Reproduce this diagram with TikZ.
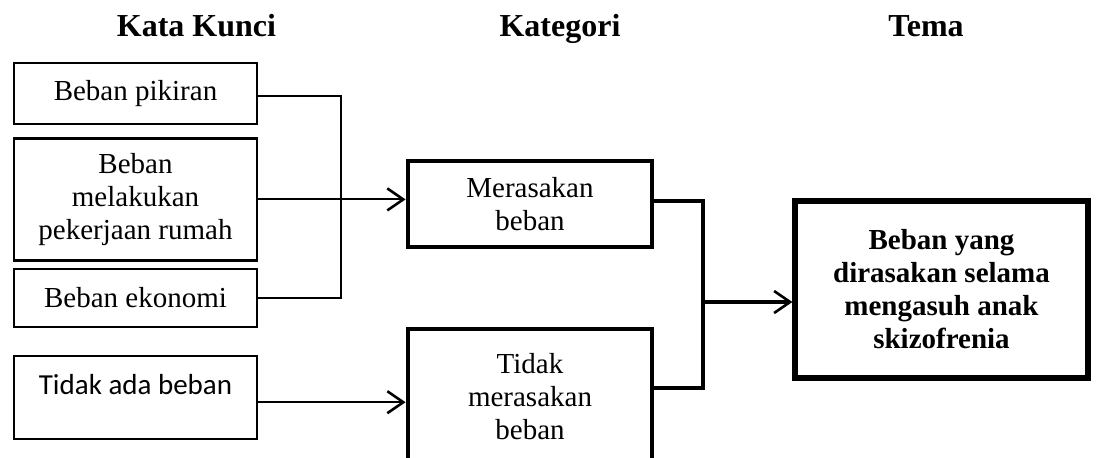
\documentclass[tikz,border=0pt]{standalone}
\usepackage{fontspec}
\setmainfont{Liberation Serif}
\newfontfamily\calibrifont{Carlito}
\usepackage{tikz}
\usetikzlibrary{arrows.meta,positioning}

\begin{document}
\begin{tikzpicture}[
        x=0.5pt, y=-0.5pt,
        every node/.style={font=\fontsize{14.5}{16.5}\selectfont},
        header/.style={anchor=base, font=\fontsize{16}{18}\selectfont\bfseries},
        keyword/.style={rectangle, draw, line width=1.2pt, minimum width=121.5pt, align=center, inner sep=0pt},
        category/.style={rectangle, draw, line width=2.4pt, minimum width=122pt, align=center, inner sep=0pt},
        theme/.style={rectangle, draw, line width=2.6pt, minimum width=146.5pt, minimum height=88.5pt, align=center, inner sep=0pt, font=\fontsize{14.5}{16.5}\selectfont\bfseries},
        thinline/.style={line width=1pt},
        thickline/.style={line width=2pt},
        arr/.style={-{Straight Barb[length=8pt,width=11pt,line width=1.3pt]}}
    ]
        \clip (0,0) rectangle (1097,457);

        % Headers
        \node [header] (hkata) at (196.5,36) {Kata Kunci};
        \node [header] (hkat) at (560,36) {Kategori};
        \node [header] (htema) at (926,36) {Tema};

        % Kata kunci
        \node [keyword, minimum height=30.5pt] (kw1) at (135.5,93.5) {Beban pikiran};
        \node [keyword, minimum height=61pt, below=6pt of kw1] (kw2) {Beban\\melakukan\\pekerjaan rumah};
        \node [keyword, minimum height=29pt, below=3pt of kw2] (kw3) {Beban ekonomi};
        \node [keyword, minimum height=41.5pt, below=13.5pt of kw3] (kw4) {\calibrifont Tidak ada beban\\[-3pt]\mbox{}};

        % Kategori
        \node [category, minimum height=43pt] (cat1) at (530,204) {Merasakan\\beban};
        \node [category, minimum height=68pt] (cat2) at (530,397) {Tidak\\merasakan\\beban};

        % Tema
        \node [theme] (tema) at (941.5,289.5) {Beban yang\\dirasakan selama\\mengasuh anak\\skizofrenia};

        % Junctions
        \coordinate (leftjoin) at (341,96);
        \coordinate (rightjoin) at (703,302);
        \coordinate (kw1out) at ([yshift=-1.25pt]kw1.east);
        \coordinate (kw4out) at ([yshift=-2.25pt]kw4.east);
        \coordinate (cat1out) at ([yshift=1.5pt]cat1.east);
        \coordinate (cat2out) at ([yshift=4.5pt]cat2.east);

        % Arrows
        \draw [thinline] (kw1out) -| (leftjoin |- kw3.east) -- (kw3.east);
        \draw [thinline, arr] (kw2.east) -- (cat1.west |- kw2.east);
        \draw [thinline, arr] (kw4out) -- (cat2.west |- kw4out);
        \draw [thickline] (cat1out) -| (rightjoin |- cat2out) -- (cat2out);
        \draw [thickline, arr] (rightjoin) -- (tema.west |- rightjoin);

    \end{tikzpicture}
\end{document}
